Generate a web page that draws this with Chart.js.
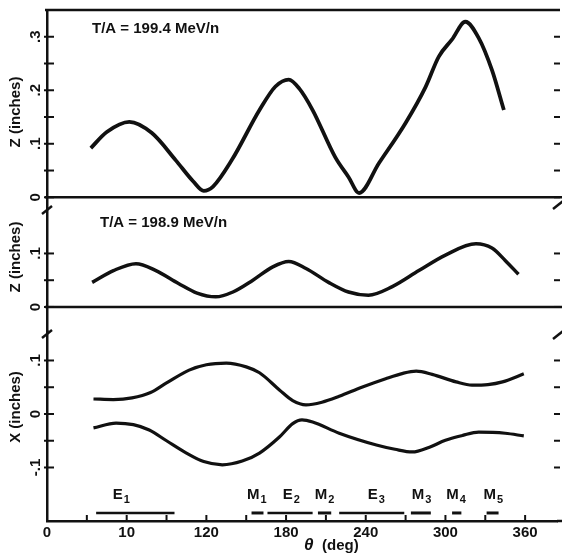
<!DOCTYPE html>
<html>
<head>
<meta charset="utf-8">
<script src="https://cdn.jsdelivr.net/npm/chart.js@4/dist/chart.umd.min.js"></script>
<style>
  html, body { margin: 0; padding: 0; background: #fff; }
  #wrap { position: relative; width: 562px; height: 555px; }
</style>
</head>
<body>
<div id="wrap"><canvas id="chart" width="562" height="555"></canvas></div>
<script>
// ---------- data ----------
// top panel, T/A = 199.4 MeV/n
const THETA_TOP = [33, 45, 62, 79, 97, 110, 118, 125, 139, 160, 172, 182, 190, 200, 217, 227, 235, 250, 270, 285, 295, 305, 315, 325, 335, 344];
const Z_TOP = [0.092, 0.122, 0.141, 0.12, 0.069, 0.03, 0.012, 0.02, 0.069, 0.163, 0.207, 0.22, 0.203, 0.163, 0.075, 0.038, 0.008, 0.064, 0.139, 0.206, 0.263, 0.295, 0.328, 0.298, 0.238, 0.163];

// middle panel, T/A = 198.9 MeV/n
const THETA_MID = [34, 50, 67, 82, 99, 113, 127, 140, 155, 170, 182, 195, 212, 227, 242, 260, 280, 300, 323, 335, 345, 355];
const Z_MID = [0.046, 0.068, 0.081, 0.068, 0.044, 0.026, 0.019, 0.028, 0.05, 0.075, 0.085, 0.072, 0.046, 0.028, 0.022, 0.038, 0.068, 0.097, 0.118, 0.11, 0.087, 0.061];

// bottom panel, X envelope
const THETA_XUP = [35, 50, 64, 78, 90, 107, 120, 135, 150, 160, 175, 185, 195, 207, 220, 237, 255, 268, 278, 290, 308, 320, 332, 343, 359];
const X_UP = [0.028, 0.027, 0.03, 0.04, 0.058, 0.082, 0.092, 0.095, 0.088, 0.077, 0.045, 0.025, 0.017, 0.022, 0.033, 0.05, 0.066, 0.076, 0.08, 0.074, 0.06, 0.054, 0.055, 0.06, 0.075];
const THETA_XLO = [35, 52, 65, 77, 90, 105, 118, 132, 147, 160, 175, 185, 192, 200, 220, 248, 262, 275, 288, 300, 313, 325, 345, 359];
const X_LO = [-0.026, -0.017, -0.02, -0.03, -0.05, -0.073, -0.089, -0.095, -0.088, -0.073, -0.043, -0.018, -0.011, -0.015, -0.036, -0.058, -0.066, -0.071, -0.062, -0.049, -0.04, -0.034, -0.036, -0.041];

// magnet / electrostatic element ranges (deg)
const ELEM_NAMES = ["E", "M", "E", "M", "E", "M", "M", "M"];
const ELEM_SUBS = ["1", "1", "2", "2", "3", "3", "4", "5"];
const ELEM_FROM = [37, 154, 166, 204, 220, 274, 305, 331];
const ELEM_TO = [96, 163, 200, 214, 269, 289, 312, 340];
const ELEM_LABEL_AT = [56, 158, 184, 209, 248, 282, 308, 336];

// ticks
const X_TICKS = [0, 30, 60, 90, 120, 150, 180, 210, 240, 270, 300, 330, 360];
const X_TICK_LABELS = ["0", "10", "120", "180", "240", "300", "360"];
const TOP_TICKS = [0, 0.05, 0.1, 0.15, 0.2, 0.25, 0.3];
const MID_TICKS = [0, 0.05, 0.1];
const BOT_TICKS = [-0.1, -0.05, 0, 0.05, 0.1];

const PANEL_NOTES = ["T/A = 199.4 MeV/n", "T/A = 198.9 MeV/n"];
const Y_TITLES = ["Z (inches)", "Z (inches)", "X (inches)"];

// ---------- style ----------
const INK = "#111";
const FONT = "'Liberation Sans', Arial, sans-serif";

const pts = (xs, ys) => xs.map((x, i) => ({ x, y: ys[i] }));
const fmtY = (v) => (Math.abs(v) < 1e-9 ? "0" : (v < 0 ? "-" : "") + Math.abs(v).toFixed(1).replace(/^0/, ""));
const isMajor = (v) => Math.abs(v * 10 - Math.round(v * 10)) < 1e-6;

const curve = (data, axis, w) => ({
  data, yAxisID: axis, borderColor: INK, borderWidth: w,
  pointRadius: 0, tension: 0.4, cubicInterpolationMode: "monotone", fill: false
});

const datasets = [
  curve(pts(THETA_TOP, Z_TOP), "yTop", 3.8),
  curve(pts(THETA_MID, Z_MID), "yMid", 3.5),
  curve(pts(THETA_XUP, X_UP), "yBot", 3.2),
  curve(pts(THETA_XLO, X_LO), "yBot", 3.2)
];
ELEM_FROM.forEach((f, i) => {
  datasets.push({
    data: [{ x: f, y: -0.185 }, { x: ELEM_TO[i], y: -0.185 }],
    yAxisID: "yBot", borderColor: INK, borderWidth: ELEM_NAMES[i] === "M" ? 3 : 2.5,
    pointRadius: 0, tension: 0
  });
});

// y panel scale factory
function panelScale(min, max, weight, ticks) {
  return {
    type: "linear", position: "left", stack: "panels", stackWeight: weight,
    min, max,
    grid: { display: false, drawTicks: false },
    border: { display: true, color: INK, width: 2.5 },
    ticks: { display: false },
    afterBuildTicks: (s) => { s.ticks = ticks.map(v => ({ value: v })); },
    afterFit: (s) => { s.width = 47; }
  };
}

// ------------------ paper look plugin ------------------
const paperPlugin = {
  id: "paper",
  afterDraw(chart) {
    const ctx = chart.ctx, a = chart.chartArea, xs = chart.scales.x;
    const panels = [chart.scales.yTop, chart.scales.yMid, chart.scales.yBot];
    ctx.save();
    ctx.strokeStyle = INK;
    ctx.fillStyle = INK;
    ctx.lineCap = "butt";

    // frame lines
    ctx.lineWidth = 2.5;
    const hline = (y, x0, x1) => { ctx.beginPath(); ctx.moveTo(x0, y); ctx.lineTo(x1, y); ctx.stroke(); };
    hline(a.top, a.left - 2, 560);
    hline(panels[0].getPixelForValue(0), a.left - 2, 562);
    hline(panels[1].getPixelForValue(0), a.left - 2, 562);
    hline(a.bottom, a.right, 562);

    // inward ticks, left and right
    ctx.lineWidth = 2;
    panels.forEach(s => {
      s.ticks.forEach(t => {
        const y = s.getPixelForValue(t.value);
        ctx.beginPath(); ctx.moveTo(a.left - 3, y); ctx.lineTo(a.left + 7, y); ctx.stroke();
        ctx.beginPath(); ctx.moveTo(a.right - 3, y); ctx.lineTo(a.right + 3, y); ctx.stroke();
      });
    });
    xs.ticks.forEach(t => {
      const x = xs.getPixelForValue(t.value);
      ctx.beginPath(); ctx.moveTo(x, a.bottom); ctx.lineTo(x, a.bottom - 6); ctx.stroke();
    });

    // axis breaks
    const brk = (x, y) => {
      ctx.lineWidth = 2.5;
      ctx.beginPath(); ctx.moveTo(x - 5, y + 4); ctx.lineTo(x + 5, y - 4); ctx.stroke();
    };
    brk(a.left, 210); brk(a.left, 334);
    brk(a.right + 1, 205); brk(a.right + 1, 335);

    // y tick labels (rotated)
    ctx.font = "bold 15px " + FONT;
    ctx.textAlign = "center";
    ctx.textBaseline = "middle";
    panels.forEach(s => {
      s.ticks.forEach(t => {
        if (!isMajor(t.value)) return;
        const y = s.getPixelForValue(t.value);
        ctx.save(); ctx.translate(36, y); ctx.rotate(-Math.PI / 2);
        ctx.fillText(fmtY(t.value), 0, 0);
        ctx.restore();
      });
    });

    // y titles
    ctx.font = "bold 15px " + FONT;
    [112, 257, 407].forEach((cy, i) => {
      ctx.save(); ctx.translate(16, cy); ctx.rotate(-Math.PI / 2);
      ctx.fillText(Y_TITLES[i], 0, 0);
      ctx.restore();
    });

    // panel notes
    ctx.textAlign = "left";
    ctx.textBaseline = "alphabetic";
    ctx.font = "bold 15px " + FONT;
    ctx.fillText(PANEL_NOTES[0], 92, 33);
    ctx.fillText(PANEL_NOTES[1], 100, 227);

    // element labels with subscripts
    ELEM_NAMES.forEach((n, i) => {
      const cx = xs.getPixelForValue(ELEM_LABEL_AT[i]);
      ctx.font = "bold 15px " + FONT;
      const w1 = ctx.measureText(n).width;
      ctx.font = "bold 11px " + FONT;
      const w2 = ctx.measureText(ELEM_SUBS[i]).width;
      const x0 = cx - (w1 + w2 + 1) / 2;
      ctx.font = "bold 15px " + FONT;
      ctx.fillText(n, x0, 499);
      ctx.font = "bold 11px " + FONT;
      ctx.fillText(ELEM_SUBS[i], x0 + w1 + 1, 503);
    });

    // x title
    ctx.font = "italic bold 17px " + FONT;
    ctx.fillText("\u03B8", 304, 550);
    ctx.font = "bold 15px " + FONT;
    ctx.fillText("(deg)", 322, 550);

    ctx.restore();
  }
};

new Chart(document.getElementById("chart").getContext("2d"), {
  type: "line",
  data: { datasets },
  options: {
    responsive: false,
    animation: false,
    layout: { padding: { top: 10, right: 5, left: 0, bottom: 0 } },
    plugins: { legend: { display: false }, tooltip: { enabled: false } },
    scales: {
      x: {
        type: "linear", position: "bottom", min: 0, max: 384,
        grid: { display: false, drawTicks: false },
        border: { display: true, color: INK, width: 2.5 },
        afterBuildTicks: (s) => { s.ticks = X_TICKS.map(v => ({ value: v })); },
        ticks: {
          color: INK, padding: 3, maxRotation: 0, autoSkip: false,
          font: { family: FONT, size: 15, weight: "bold" },
          callback: (v) => (v % 60 === 0 ? X_TICK_LABELS[v / 60] : "")
        },
        afterFit: (s) => { s.height = 34; }
      },
      yBot: panelScale(-0.2, 0.155, 0.355, BOT_TICKS),
      yMid: panelScale(-0.045, 0.205, 0.25, MID_TICKS),
      yTop: panelScale(0, 0.35, 0.35, TOP_TICKS)
    }
  },
  plugins: [paperPlugin]
});
</script>
</body>
</html>
